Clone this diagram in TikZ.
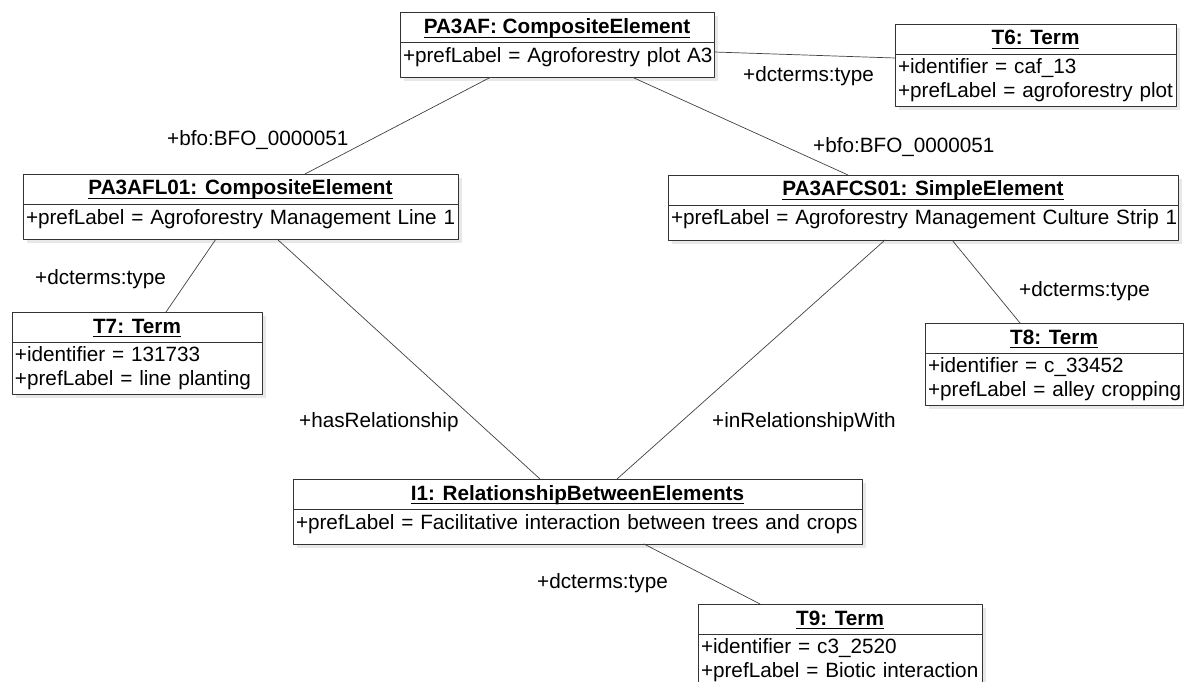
\documentclass[tikz,border=0pt]{standalone}
\usepackage{fontspec}
\setmainfont{Liberation Sans}
\usetikzlibrary{positioning,shadows}

% underlined object name
\newcommand{\uname}[1]{\setbox0\hbox{#1}\rlap{\rule[-4pt]{\wd0}{0.8pt}}\box0}

\begin{document}
\begin{tikzpicture}[
    x=1pt,
    y=-1pt,
    line cap=round,
    line join=round,
    every node/.style={
        font=\fontsize{20.7}{23.5}\selectfont
    },
    box/.style={
        draw=black!80,
        fill=white,
        line width=0.9pt,
        inner sep=0pt,
        outer sep=0pt,
        drop shadow={shadow xshift=4pt, shadow yshift=-4pt, fill=black!9, opacity=1}
    },
    hdr/.style={
        box,
        anchor=north west,
        minimum width=#1,
        minimum height=30pt,
        text height=15pt,
        text depth=3pt,
        font=\fontsize{20.7}{23.5}\selectfont\bfseries
    },
    attr/.style={
        box,
        minimum width=#1,
        text width=#1-6pt,
        inner xsep=3pt,
        execute at begin node={\raggedright\rightskip=0pt plus 1fil minus 30pt}
    },
    one/.style={
        minimum height=35pt,
        text height=15pt,
        text depth=10pt
    },
    two/.style={
        minimum height=52pt
    },
    link/.style={
        draw=black!75,
        line width=0.7pt
    },
    role/.style={
        anchor=base west,
        inner sep=0pt
    }
]

\useasboundingbox (0,0) rectangle (1184,682);

% =================================================
% Objects
% =================================================

% PA3AF
\node[hdr=314pt] (PA3AF) at (400,12.5) {\uname{PA3AF: CompositeElement}};
\node[attr=314pt, one, below=0pt of PA3AF] (PA3AFa) {+prefLabel = Agroforestry plot A3};

% T6
\node[hdr=281pt] (T6) at (895,24) {\uname{T6: Term}};
\node[attr=281pt, two, below=0pt of T6] (T6a) {+identifier = caf\_13\\+prefLabel = agroforestry plot};

% PA3AFL01
\node[hdr=435pt] (PA3AFL01) at (23,174) {\uname{PA3AFL01: CompositeElement}};
\node[attr=435pt, one, below=0pt of PA3AFL01] (PA3AFL01a) {+prefLabel = Agroforestry Management Line 1};

% PA3AFCS01
\node[hdr=510pt] (PA3AFCS01) at (668,175) {\uname{PA3AFCS01: SimpleElement}};
\node[attr=510pt, one, below=0pt of PA3AFCS01] (PA3AFCS01a) {+prefLabel = Agroforestry Management Culture Strip 1};

% T7
\node[hdr=250pt] (T7) at (12,312) {\uname{T7: Term}};
\node[attr=250pt, two, below=0pt of T7] (T7a) {+identifier = 131733\\+prefLabel = line planting};

% T8
\node[hdr=258pt] (T8) at (925,323) {\uname{T8: Term}};
\node[attr=258pt, two, below=0pt of T8] (T8a) {+identifier = c\_33452\\+prefLabel = alley cropping};

% I1
\node[hdr=569pt] (I1) at (293,479) {\uname{I1: RelationshipBetweenElements}};
\node[attr=569pt, one, below=0pt of I1] (I1a) {+prefLabel = Facilitative interaction between trees and crops};

% T9
\node[hdr=284pt] (T9) at (698,604) {\uname{T9: Term}};
\node[attr=284pt, two, below=0pt of T9] (T9a) {+identifier = c3\_2520\\+prefLabel = Biotic interaction};

% =================================================
% Links
% =================================================

\draw[link] ([yshift=8pt]PA3AFa.east) -- ([yshift=22pt]T6a.west);
\draw[link] ([xshift=-67pt]PA3AFa.south) -- ([xshift=64.5pt]PA3AFL01.north);
\draw[link] ([xshift=76pt]PA3AFa.south) -- ([xshift=-75pt]PA3AFCS01.north);

\draw[link] ([xshift=-24.5pt]PA3AFL01a.south) -- ([xshift=29pt]T7.north);
\draw[link] ([xshift=36.5pt]PA3AFL01a.south) -- ([xshift=-37.5pt]I1.north);

\draw[link] ([xshift=-38pt]PA3AFCS01a.south) -- ([xshift=39.5pt]I1.north);
\draw[link] ([xshift=29pt]PA3AFCS01a.south) -- ([xshift=-34pt]T8.north);

\draw[link] ([xshift=66.5pt]I1a.south) -- ([xshift=-80pt]T9.north);

% =================================================
% Roles
% =================================================

\node[role] (rT6)   at (743,82)  {+dcterms:type};
\node[role] (rL01)  at (167,146) {+bfo:BFO\_0000051};
\node[role] (rCS01) at (813,153) {+bfo:BFO\_0000051};
\node[role] (rT7)   at (35,284)  {+dcterms:type};
\node[role] (rT8)   at (1019,296) {+dcterms:type};
\node[role] (rHas)  at (299,427) {+hasRelationship};
\node[role] (rIn)   at (712,427) {+inRelationshipWith};
\node[role] (rT9)   at (537,588) {+dcterms:type};

\end{tikzpicture}
\end{document}
